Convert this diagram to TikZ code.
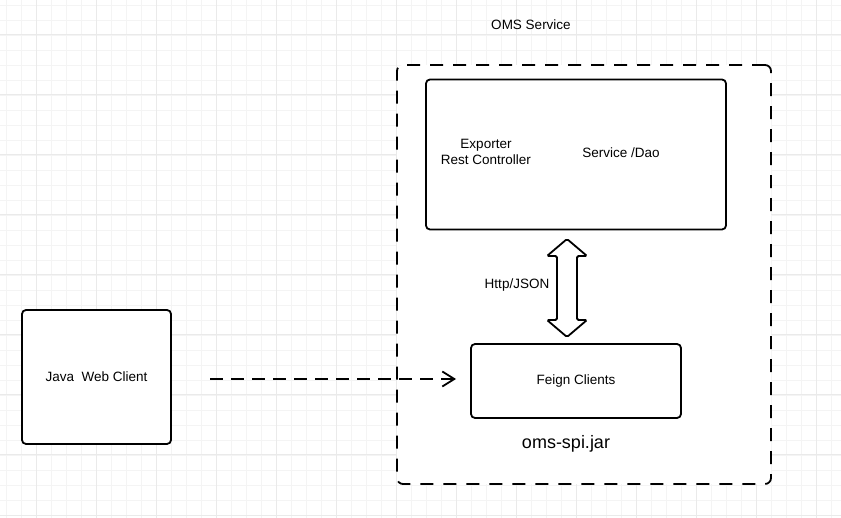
\documentclass[tikz,border=0pt]{standalone}
\usepackage{fontspec}
\setmainfont{Liberation Sans}
\usetikzlibrary{arrows.meta}
\definecolor{gridminor}{HTML}{F4F4F4}
\definecolor{gridmajor}{HTML}{EAEAEA}
\begin{document}
\begin{tikzpicture}[
x=1pt,
y=-1pt,
box/.style={
draw,
fill=white,
line width=1.8pt,
rounded corners=4pt,
align=center,
},
outer/.style={
draw,
fill=white,
line width=1.8pt,
rounded corners=6pt,
dash pattern=on 13pt off 10pt,
},
label/.style={
align=center,
inner sep=0pt,
},
minorline/.style={
gridminor,
line width=0.8pt,
},
majorline/.style={
gridmajor,
line width=1pt,
},
myedge/.style={
line width=1.8pt,
dash pattern=on 13pt off 8pt,
-{Straight Barb[length=12pt,width=15pt]},
},
twoway/.style={
draw,
fill=white,
line width=1.8pt,
rounded corners=1.5pt,
},
font=\fontsize{13.5}{15.5}\selectfont,
]
\useasboundingbox[fill=white] (0,0) rectangle (841,518);

\foreach \x in {6.7,21.7,...,841} \draw[minorline] (\x,0) -- (\x,518);
\foreach \y in {5,20,...,518} \draw[minorline] (0,\y) -- (841,\y);
\foreach \x in {36.7,96.7,...,841} \draw[majorline] (\x,0) -- (\x,518);
\foreach \y in {35,95,...,518} \draw[majorline] (0,\y) -- (841,\y);

\node[outer, minimum width=374pt, minimum height=419pt] at (584,274.5) (oms) {};
\node[label] at (531,25) (omsname) {OMS Service};

\node[box, minimum width=300pt, minimum height=150pt] at (576,154.5) (ctrl) {};
\node[label] at (486,152) (exporter) {Exporter\\Rest Controller};
\node[label] at (621,153) (dao) {Service /Dao};

\node[box, minimum width=210pt, minimum height=74pt] at (576,381) (feign) {Feign Clients};
\node[label, font=\fontsize{18}{21}\selectfont] at (566,444) (jar) {oms-spi.jar};

\node[box, minimum width=149pt, minimum height=134pt] at (96.5,377) (java) {Java\ \ Web Client};

% Http/JSON link
\coordinate (up) at (567,239);
\coordinate (dn) at (567,337);
\draw[twoway] (up) -- ++(20,17) -- ++(-10,0) -- ++(0,64) -- ++(10,0) -- (dn)
-- ++(-20,-17) -- ++(10,0) -- ++(0,-64) -- ++(-10,0) -- cycle;
\node[label] at (517,285) (http) {Http/JSON};

% client call
\coordinate (from) at (210,379);
\coordinate (to) at (456,379);
\path (from) edge [myedge] (to);

\end{tikzpicture}
\end{document}
